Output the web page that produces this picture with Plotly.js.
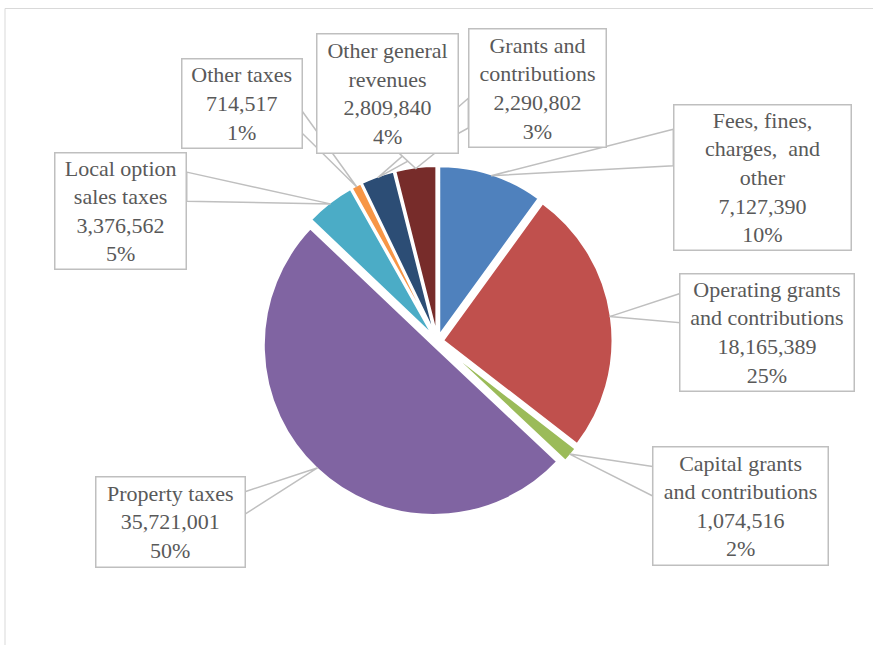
<!DOCTYPE html>
<html><head><meta charset="utf-8">
<script src="https://cdn.plot.ly/plotly-3.0.1.min.js"></script>
<style>html,body{margin:0;padding:0;background:#fff;}#chart{width:873px;height:645px;}</style>
</head><body><div id="chart"></div>
<script>
// ---- data ----
const categories = ["Fees, fines, charges, and other", "Operating grants and contributions", "Capital grants and contributions", "Property taxes", "Local option sales taxes", "Other taxes", "Grants and contributions", "Other general revenues"];
const labelLines = [
  ["Fees, fines,", "charges,\u00A0 and", "other"],
  ["Operating grants", "and contributions"],
  ["Capital grants", "and contributions"],
  ["Property taxes"],
  ["Local option", "sales taxes"],
  ["Other taxes"],
  ["Grants and", "contributions"],
  ["Other general", "revenues"]
];
const values = [7127390, 18165389, 1074516, 35721001, 3376562, 714517, 2290802, 2809840];

// ---- styles / layout ----
const colors = ["#4F81BD", "#C0504D", "#9BBB59", "#8064A2", "#4BACC6", "#F79646", "#2C4D75", "#772C2A"];
const W = 873, H = 645;
const CX = 437.3, CY = 341.2, R = 170, PULLPX = 5.5;
const boxes = [
  {cx: 762.0, cy: 177.9, w: 177.4, h: 145.7},
  {cx: 767.2, cy: 332.5, w: 174.3, h: 117.0},
  {cx: 740.5, cy: 505.9, w: 175.6, h: 118.3},
  {cx: 170.5, cy: 521.7, w: 149.0, h: 90.0},
  {cx: 120.9, cy: 211.0, w: 131.7, h: 116.6},
  {cx: 241.7, cy: 103.0, w: 120.0, h: 89.4},
  {cx: 537.0, cy: 88.4, w: 137.4, h: 118.7},
  {cx: 387.5, cy: 93.7, w: 141.6, h: 119.3}
];
const FONT = {family: "Liberation Serif, 'Times New Roman', serif", size: 22, color: "#595959"};
const LINEC = "#BFBFBF";

const px = x => x / W;
const py = y => 1 - y / H;

const pull = PULLPX / R;
const half = R * (1 + pull);
const domain = {
  x: [(CX - half) / W, (CX + half) / W],
  y: [(H - CY - half) / H, (H - CY + half) / H]
};

const total = values.reduce((a, b) => a + b, 0);
let cum = 0;
const pointerShapes = [];
const annotations = [];

values.forEach((v, i) => {
  const mid = (cum + v / 2) / total * 2 * Math.PI;
  cum += v;
  const dist = R + PULLPX - 1.5;
  const tx = CX + dist * Math.sin(mid);
  const ty = CY - dist * Math.cos(mid);
  const b = boxes[i];
  const left = b.cx - b.w / 2, top = b.cy - b.h / 2;
  const dxPos = tx - b.cx, dyPos = ty - b.cy;
  let p1, p2;
  if (Math.abs(dxPos) * b.h > Math.abs(dyPos) * b.w) {
    const ex = dxPos > 0 ? left + b.w : left;
    const g1 = dyPos > 0 ? 7 : 2, g2 = dyPos > 0 ? 10 : 5;
    p1 = [ex, top + b.h * g1 / 12];
    p2 = [ex, top + b.h * g2 / 12];
  } else {
    const ey = dyPos > 0 ? top + b.h : top;
    const g1 = dxPos > 0 ? 7 : 2, g2 = dxPos > 0 ? 10 : 5;
    p1 = [left + b.w * g1 / 12, ey];
    p2 = [left + b.w * g2 / 12, ey];
  }
  pointerShapes.push({
    type: "path", xref: "paper", yref: "paper",
    path: `M${px(p1[0])},${py(p1[1])} L${px(tx)},${py(ty)} L${px(p2[0])},${py(p2[1])} Z`,
    fillcolor: "#FFFFFF", line: {color: LINEC, width: 1.5}
  });
  const pct = Math.round(v / total * 100) + "%";
  const lines = labelLines[i].concat([v.toLocaleString("en-US"), pct]);
  annotations.push({
    xref: "paper", yref: "paper", x: px(b.cx), y: py(b.cy), xanchor: "center", yanchor: "middle",
    showarrow: false, text: lines.join("<br>"), font: FONT, align: "center", valign: "middle",
    width: b.w - 1.5, height: b.h - 1.5, bgcolor: "#FFFFFF", bordercolor: LINEC, borderwidth: 1.5, borderpad: 0
  });
});

const shapes = [{type: "rect", xref: "paper", yref: "paper", x0: px(5), x1: 1.02, y0: py(8.5), y1: -0.02,
  line: {color: "#D9D9D9", width: 1}, fillcolor: "rgba(0,0,0,0)", layer: "below"}].concat(pointerShapes);

const trace = {
  type: "pie", labels: categories, values: values, sort: false, direction: "clockwise", rotation: 0,
  pull: values.map(() => pull), domain: domain, textinfo: "none", hoverinfo: "none",
  marker: {colors: colors, line: {color: "#FFFFFF", width: 2.5}}, showlegend: false
};

Plotly.newPlot("chart", [trace], {
  width: W, height: H, margin: {l: 0, r: 0, t: 0, b: 0},
  paper_bgcolor: "#FFFFFF", showlegend: false, shapes: shapes, annotations: annotations
}, {displayModeBar: false});
</script></body></html>
